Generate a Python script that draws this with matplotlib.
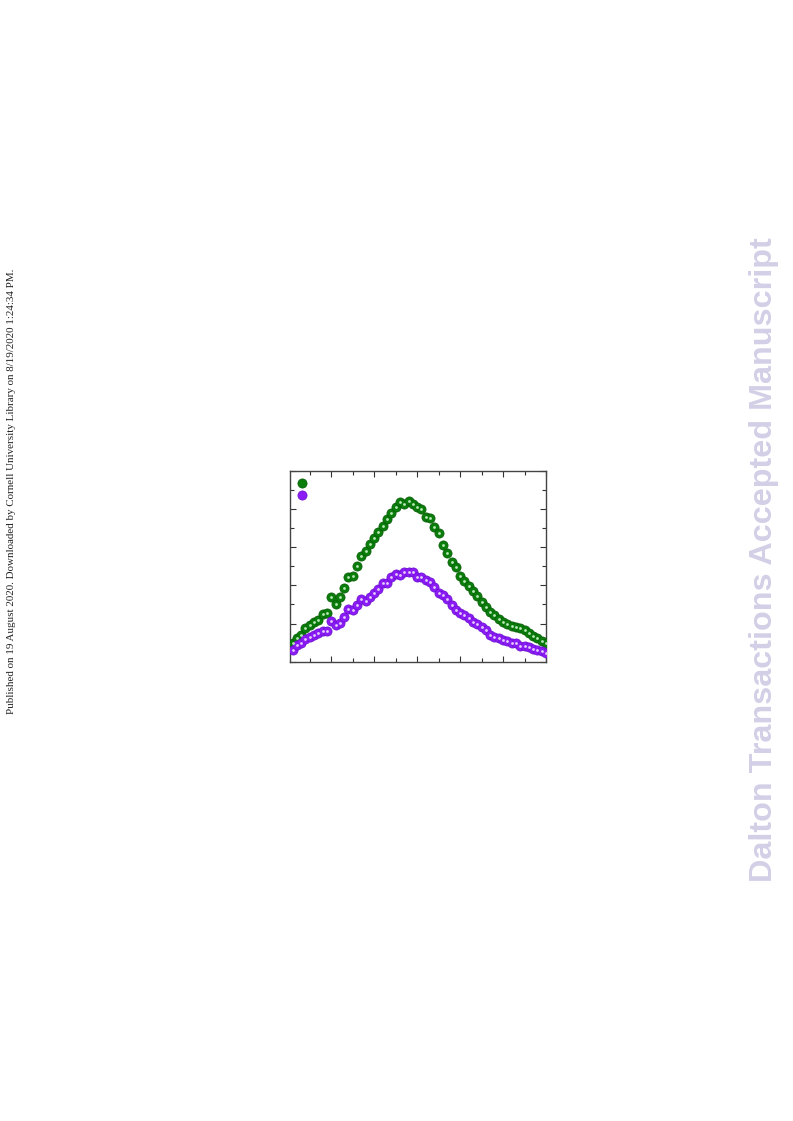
import numpy as np
import matplotlib
matplotlib.use('Agg')
import matplotlib.pyplot as plt
from matplotlib.lines import Line2D
from matplotlib.ticker import MultipleLocator, NullFormatter

# sample index (evenly spaced scan points)
x = list(range(1, 61))

green = [1.00, 1.23, 1.40, 1.75, 1.92, 2.06, 2.18, 2.50, 2.57, 3.38,
         3.01, 3.39, 3.85, 4.46, 4.51, 5.03, 5.54, 5.80, 6.16, 6.49,
         6.79, 7.13, 7.47, 7.81, 8.10, 8.37, 8.29, 8.43, 8.27, 8.13,
         7.99, 7.57, 7.54, 7.08, 6.76, 6.12, 5.72, 5.24, 4.98, 4.49,
         4.25, 3.97, 3.69, 3.45, 3.11, 2.85, 2.61, 2.45, 2.22, 2.07,
         1.96, 1.89, 1.80, 1.75, 1.66, 1.49, 1.35, 1.23, 1.09, 0.96]

purple = [0.61, 0.88, 0.98, 1.19, 1.31, 1.42, 1.52, 1.63, 1.61, 2.15,
          1.92, 2.01, 2.33, 2.75, 2.71, 2.97, 3.27, 3.17, 3.41, 3.59,
          3.80, 4.11, 4.14, 4.46, 4.60, 4.55, 4.69, 4.69, 4.69, 4.46,
          4.43, 4.28, 4.16, 3.93, 3.62, 3.50, 3.27, 2.97, 2.71, 2.57,
          2.45, 2.28, 2.10, 1.98, 1.84, 1.66, 1.40, 1.31, 1.23, 1.14,
          1.07, 1.00, 0.96, 0.82, 0.84, 0.76, 0.65, 0.61, 0.58, 0.47]

series = [(green, '#0b7d0b', '#055a05', '#b8eab8'),
          (purple, '#8c1cf5', '#6a0fd0', '#e6ccff')]

fig = plt.figure(figsize=(7.93, 11.21), dpi=100)
ax = fig.add_axes([290/793, 459.3/1121, 256/793, 190.7/1121])

handles = []
for ys, face, edge, hi in series:
    ax.plot(x, ys, 'o', ms=6.6, mfc=face, mec=edge, mew=0.5, zorder=3)
    ax.plot(x, ys, 'o', ms=2.0, mfc=hi, mec='none', zorder=4)
    handles.append(Line2D([], [], ls='none', marker='o', ms=6.6,
                          mfc=face, mec=edge, mew=0.5))

ax.set_xlim(0.4, 60)
ax.set_ylim(0, 10)
ax.xaxis.set_major_locator(MultipleLocator(10))
ax.xaxis.set_minor_locator(MultipleLocator(5))
ax.yaxis.set_major_locator(MultipleLocator(2))
ax.yaxis.set_minor_locator(MultipleLocator(1))
ax.xaxis.set_major_formatter(NullFormatter())
ax.yaxis.set_major_formatter(NullFormatter())
ax.tick_params(which='both', direction='in', top=True, right=True,
               color='#333333', width=0.8)
ax.tick_params(which='major', length=4.5)
ax.tick_params(which='minor', length=3)
for s in ax.spines.values():
    s.set_color('#444444')
    s.set_linewidth(1.0)

ax.legend(handles, ['', ''], loc='upper left', frameon=False,
          bbox_to_anchor=(-0.013, 1.004), handlelength=1.2, fontsize=8,
          labelspacing=0.15, borderpad=0.3, handletextpad=0.1)

fig.text(12/793, 1 - 491/1121,
         'Published on 19 August 2020. Downloaded by Cornell University Library on 8/19/2020 1:24:34 PM.',
         rotation=90, ha='center', va='center', fontsize=7.9,
         family='Liberation Serif', color='#222222')
fig.text(764/793, 1 - 560/1121, 'Dalton Transactions Accepted Manuscript',
         rotation=90, ha='center', va='center', fontsize=23.3,
         family='Liberation Sans', fontweight='bold', color='#d2cfe6')

fig.savefig('out.png', dpi=100)
